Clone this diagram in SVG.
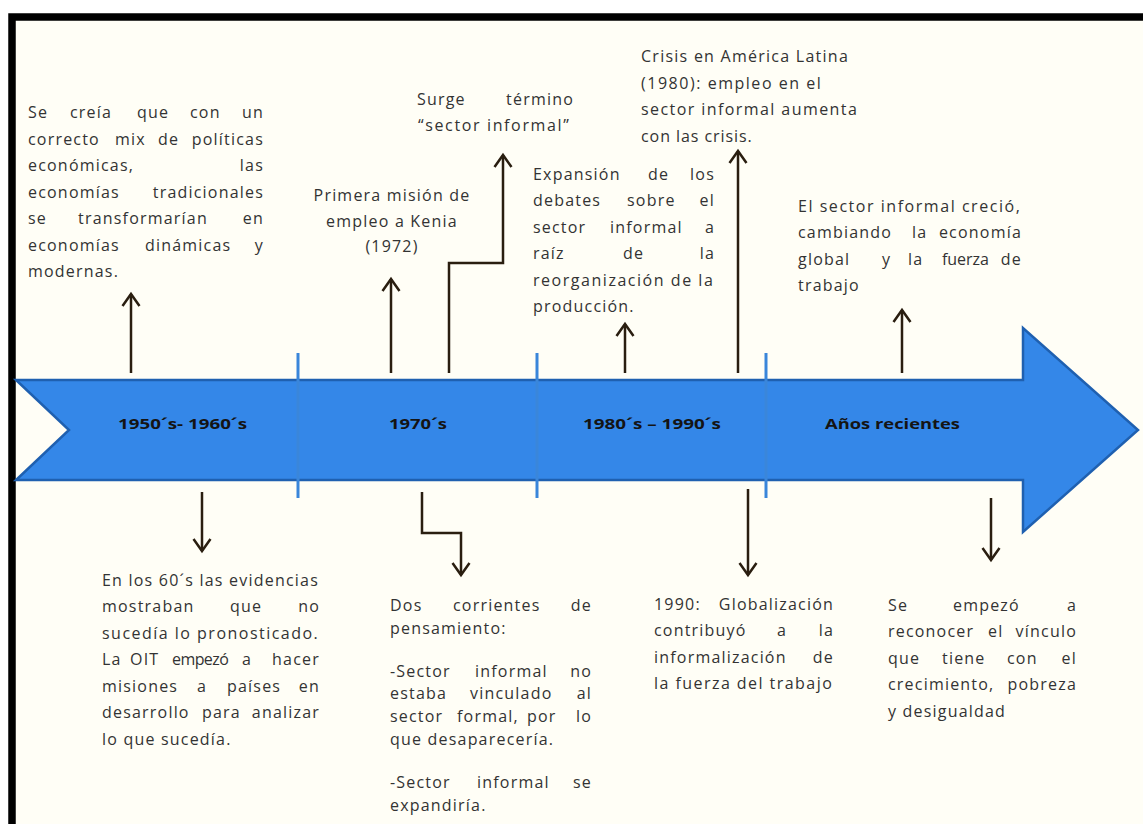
<svg xmlns="http://www.w3.org/2000/svg" width="1143" height="824" viewBox="0 0 1143 824">
  <style>
    .tx { font-family: "Open Sans", "Noto Sans", sans-serif; font-size: 16px; letter-spacing: 1.2px; fill: #333333; }
    .e { text-anchor: end; }
    .m { text-anchor: middle; }
    .lbl { font-family: "Open Sans", "Noto Sans", sans-serif; font-weight: bold; font-size: 15px; fill: #141414; text-anchor: middle; }
    .conn { fill: none; stroke: #2a1e10; stroke-width: 2.5; marker-end: url(#chev); }
    .div { stroke: #3a86da; stroke-width: 3; }
  </style>
  <defs>
    <marker id="chev" markerUnits="userSpaceOnUse" orient="auto" refX="0" refY="0" markerWidth="20" markerHeight="24" viewBox="-16 -12 20 24" overflow="visible">
      <path d="M-12,-8.5 L0,0 L-12,8.5" fill="none" stroke="#2a1e10" stroke-width="2.5" stroke-linejoin="miter"/>
    </marker>
  </defs>

  <!-- page and frame -->
  <rect x="0" y="0" width="1143" height="824" fill="#ffffff"/>
  <rect x="12" y="17" width="1200" height="900" fill="#fffef6" stroke="#000000" stroke-width="7.5"/>

  <!-- timeline band -->
  <g id="timeline">
    <polygon points="16,380 1023,380 1023,328 1138,430 1023,532 1023,480 16,480 69,430" fill="#3487e8" stroke="#1f60b0" stroke-width="2.5" stroke-linejoin="miter"/>
    <line class="div" x1="298" y1="353" x2="298" y2="498"/>
    <line class="div" x1="537" y1="353" x2="537" y2="498"/>
    <line class="div" x1="766" y1="353" x2="766" y2="498"/>
    <text class="lbl" x="182.5" y="429" textLength="129" lengthAdjust="spacingAndGlyphs">1950´s- 1960´s</text>
    <text class="lbl" x="418" y="429" textLength="58" lengthAdjust="spacingAndGlyphs">1970´s</text>
    <text class="lbl" x="652" y="429" textLength="138" lengthAdjust="spacingAndGlyphs">1980´s – 1990´s</text>
    <text class="lbl" x="892.5" y="429" textLength="135" lengthAdjust="spacingAndGlyphs">Años recientes</text>
  </g>

  <!-- connectors -->
  <g id="connectors">
    <path class="conn" d="M131,373 V294"/>
    <path class="conn" d="M391,373 V279"/>
    <path class="conn" d="M449,373 V263 H503 V155"/>
    <path class="conn" d="M625,373 V324"/>
    <path class="conn" d="M738,373 V151"/>
    <path class="conn" d="M902,373 V310"/>
    <path class="conn" d="M202,492 V551"/>
    <path class="conn" d="M422,492 V533 H461 V575"/>
    <path class="conn" d="M748,489 V575"/>
    <path class="conn" d="M991,498 V560"/>
  </g>

  <!-- 1950s-1960s, above -->
  <g id="n-mix-politicas" class="tx">
    <text x="28" y="118">Se</text><text x="70" y="118">creía</text><text x="137" y="118">que</text><text x="190" y="118">con</text><text class="e" x="264" y="118">un</text>
    <text x="28" y="144.5">correcto</text><text x="115" y="144.5">mix</text><text x="158" y="144.5">de</text><text class="e" x="264" y="144.5">políticas</text>
    <text x="28" y="171">económicas,</text><text class="e" x="264" y="171">las</text>
    <text x="28" y="197.5">economías</text><text class="e" x="264" y="197.5">tradicionales</text>
    <text x="28" y="224">se</text><text x="78" y="224">transformarían</text><text class="e" x="264" y="224">en</text>
    <text x="28" y="250.5">economías</text><text x="145" y="250.5">dinámicas</text><text class="e" x="264" y="250.5">y</text>
    <text x="28" y="277">modernas.</text>
  </g>

  <!-- 1970s, above -->
  <g id="n-kenia" class="tx">
    <text class="m" x="392" y="200.5">Primera misión de</text>
    <text class="m" x="392" y="226.5">empleo a Kenia</text>
    <text class="m" x="392" y="252">(1972)</text>
  </g>
  <g id="n-termino" class="tx">
    <text x="417" y="104.5">Surge</text><text class="e" x="574" y="104.5">término</text>
    <text x="418" y="130.5" textLength="152">“sector informal”</text>
  </g>

  <!-- 1980s-1990s, above -->
  <g id="n-expansion" class="tx">
    <text x="533" y="179.5">Expansión</text><text x="648" y="179.5">de</text><text class="e" x="715" y="179.5">los</text>
    <text x="533" y="206">debates</text><text x="627" y="206">sobre</text><text class="e" x="715" y="206">el</text>
    <text x="533" y="232.5">sector</text><text x="610" y="232.5">informal</text><text class="e" x="715" y="232.5">a</text>
    <text x="533" y="259">raíz</text><text x="623" y="259">de</text><text class="e" x="715" y="259">la</text>
    <text x="533" y="285.5" textLength="181">reorganización de la</text>
    <text x="533" y="311.5">producción.</text>
  </g>
  <g id="n-crisis" class="tx">
    <text x="641" y="62" textLength="208">Crisis en América Latina</text>
    <text x="641" y="88.5" textLength="181">(1980): empleo en el</text>
    <text x="641" y="115" textLength="217">sector informal aumenta</text>
    <text x="641" y="141.5" textLength="112">con las crisis.</text>
  </g>

  <!-- recent years, above -->
  <g id="n-crecio" class="tx">
    <text x="798" y="211.5" textLength="223">El sector informal creció,</text>
    <text x="798" y="238">cambiando</text><text x="912" y="238">la</text><text class="e" x="1022" y="238">economía</text>
    <text x="798" y="264.5">global</text><text x="882" y="264.5">y</text><text x="908" y="264.5">la</text><text x="942" y="264.5" textLength="48">fuerza</text><text class="e" x="1022" y="264.5">de</text>
    <text x="798" y="290.5">trabajo</text>
  </g>

  <!-- 1950s-1960s, below -->
  <g id="n-oit" class="tx">
    <text x="102" y="585.5" textLength="217">En los 60´s las evidencias</text>
    <text x="102" y="612">mostraban</text><text x="230" y="612">que</text><text class="e" x="320" y="612">no</text>
    <text x="102" y="638.5" textLength="217">sucedía lo pronosticado.</text>
    <text x="102" y="665">La</text><text x="130" y="665">OIT</text><text x="172" y="665" textLength="58">empezó</text><text x="242" y="665">a</text><text class="e" x="320" y="665">hacer</text>
    <text x="102" y="691.5">misiones</text><text x="197" y="691.5">a</text><text x="227" y="691.5">países</text><text class="e" x="320" y="691.5">en</text>
    <text x="102" y="718">desarrollo</text><text x="202" y="718">para</text><text class="e" x="320" y="718">analizar</text>
    <text x="102" y="744.5">lo que sucedía.</text>
  </g>

  <!-- 1970s, below -->
  <g id="n-corrientes" class="tx">
    <text x="390" y="611">Dos</text><text x="453" y="611">corrientes</text><text class="e" x="592" y="611">de</text>
    <text x="390" y="634">pensamiento:</text>
    <text x="390" y="676.5">-Sector</text><text x="475" y="676.5">informal</text><text class="e" x="592" y="676.5">no</text>
    <text x="390" y="699">estaba</text><text x="470" y="699">vinculado</text><text class="e" x="592" y="699">al</text>
    <text x="390" y="722">sector</text><text x="457" y="722">formal,</text><text x="527" y="722">por</text><text class="e" x="592" y="722">lo</text>
    <text x="390" y="745">que desaparecería.</text>
    <text x="390" y="788">-Sector</text><text x="477" y="788">informal</text><text class="e" x="592" y="788">se</text>
    <text x="390" y="810.5">expandiría.</text>
  </g>

  <!-- 1980s-1990s, below -->
  <g id="n-globalizacion" class="tx">
    <text x="654" y="609.5">1990:</text><text class="e" x="834" y="609.5">Globalización</text>
    <text x="654" y="636">contribuyó</text><text x="777" y="636">a</text><text class="e" x="834" y="636">la</text>
    <text x="654" y="662.5">informalización</text><text class="e" x="834" y="662.5">de</text>
    <text x="654" y="689" textLength="179">la fuerza del trabajo</text>
  </g>

  <!-- recent years, below -->
  <g id="n-vinculo" class="tx">
    <text x="888" y="610.5">Se</text><text x="953" y="610.5">empezó</text><text class="e" x="1077" y="610.5">a</text>
    <text x="888" y="637">reconocer</text><text x="988" y="637">el</text><text class="e" x="1077" y="637">vínculo</text>
    <text x="888" y="663.5">que</text><text x="942" y="663.5">tiene</text><text x="1007" y="663.5">con</text><text class="e" x="1077" y="663.5">el</text>
    <text x="888" y="690">crecimiento,</text><text class="e" x="1077" y="690">pobreza</text>
    <text x="888" y="716.5">y desigualdad</text>
  </g>
</svg>
